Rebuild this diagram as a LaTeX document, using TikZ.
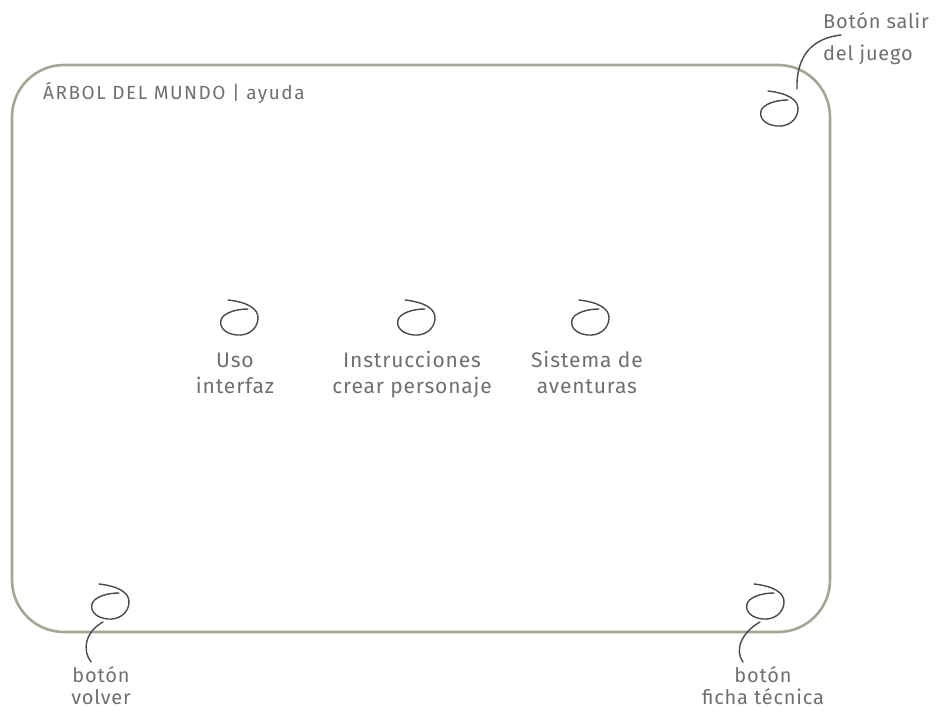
\documentclass[tikz,border=0pt]{standalone}
\usepackage{fontspec}
\setmainfont{Fira Sans}[LetterSpace=4]
\newfontfamily\titlefont{Fira Sans}[LetterSpace=8]
\usetikzlibrary{calc}
\definecolor{frame}{HTML}{A4A696}
\definecolor{ink}{HTML}{707070}
\definecolor{pen}{HTML}{4A4A4A}
\tikzset{
  swirl/.pic={
    \draw[pen, line width=1.4pt, line cap=round]
      (-10,-17) .. controls (8,-15) and (21,-9) .. (20,2)
      .. controls (19,13) and (9,19) .. (-1,18)
      .. controls (-12,17) and (-19,11) .. (-17,3)
      .. controls (-15,-4) and (-2,-8) .. (10,-8);
  },
  lbl/.style={text=ink, align=center, inner sep=0pt, anchor=base},
  big/.style={lbl, font=\fontsize{21}{26}\selectfont},
  small/.style={lbl, font=\fontsize{20}{22}\selectfont},
  leader/.style={pen, line width=1.4pt, line cap=round}
}
\begin{document}
\begin{tikzpicture}[x=1pt, y=-1pt]
\useasboundingbox (0,0) rectangle (937,715);
\fill[white] (0,0) rectangle (937,715);

% screen frame
\draw[frame, line width=2.6pt, rounded corners=52pt] (12,65) rectangle (830,632);

% header
\node[lbl, anchor=base west, font=\titlefont\fontsize{19}{22}\selectfont] (title) at (43,99) {ÁRBOL DEL MUNDO | ayuda};

% buttons
\coordinate (exitb) at (778,108);
\coordinate (helpa) at (238,317);
\coordinate (helpb) at (415,317);
\coordinate (helpc) at (589,317);
\coordinate (backb) at (109,601);
\coordinate (specb) at (764,601);
\foreach \c in {exitb,helpa,helpb,helpc,backb,specb}
  \pic at (\c) {swirl};

% captions (anchored on the baseline of their last line)
\node[big] (usa) at (235,393) {Uso\\interfaz};
\node[big] (usb) at (412,393) {Instrucciones\\crear personaje};
\node[big] (usc) at (587,393) {Sistema de\\aventuras};
\node[lbl, anchor=base west, align=left, font=\fontsize{20}{32}\selectfont] (exitl) at (823,60) {Botón salir\\del juego};
\node[small] (backl) at (101,704) {botón\\volver};
\node[small] (specl) at (763,704) {botón\\ficha técnica};

% leaders from buttons to captions
\coordinate (exitq) at ($(exitb)+(19,-19)$);
\draw[leader] (exitq) .. controls +(-1,-35) and +(-27,3) .. (841,35);
\coordinate (backq) at ($(backb)+(-6,21)$);
\draw[leader] (backq) .. controls +(-18,10) and +(-9,-12) .. (91,662);
\coordinate (specq) at ($(specb)+(-4,21)$);
\draw[leader] (specq) .. controls +(-18,10) and +(-9,-12) .. (743,662);
\end{tikzpicture}
\end{document}
